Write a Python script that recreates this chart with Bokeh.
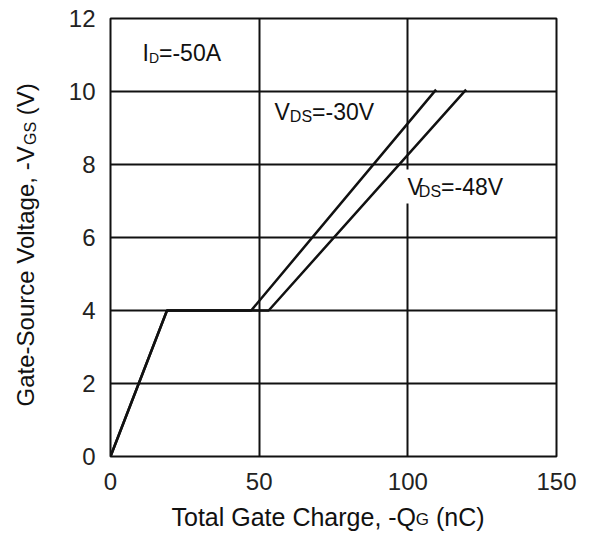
import math
from bokeh.plotting import figure
from bokeh.models import Range1d, FixedTicker, Label
from bokeh.layouts import row, column
from bokeh.embed import file_html
from bokeh.resources import INLINE

# ---------------- data ----------------
qg_vds30 = [0, 19, 47.3, 109.5]      # total gate charge, nC  (VDS = -30 V)
vgs_vds30 = [0, 4, 4, 10.05]         # gate-source voltage, V
qg_vds48 = [0, 19, 53.2, 119.6]      # total gate charge, nC  (VDS = -48 V)
vgs_vds48 = [0, 4, 4, 10.05]
x_ticks = [0, 50, 100, 150]
y_ticks = [0, 2, 4, 6, 8, 10, 12]
x_range = (0, 150)
y_range = (0, 12)

# text runs: (text, size px, baseline shift px, extra advance px before run)
x_title_runs = [("Total Gate Charge, -Q", 25, 0, 0), ("G", 17, 3, -3), (" (nC)", 25, 0, 0)]
y_title_runs = [("Gate-Source Voltage, -V", 24, 0, 0), ("GS", 16, 5, 0), (" (V)", 24, 0, 0)]
id_runs = [("I", 23, 0, 0), ("D", 14, 5, 0), ("=-50A", 23, 0, 0)]
vds30_runs = [("V", 23, 0, 0), ("DS", 16, 5, 0), ("=-30V", 23, 0, 0)]
vds48_runs = [("V", 23, 0, 0), ("DS", 16, 5, 0), ("=-48V", 23, 0, 0)]

# ---------------- layout ----------------
TOTAL_W, TOTAL_H = 590, 534
YT_W = 50                       # left strip holding the y title
XT_H = 34                       # bottom strip holding the x title
MW, MH = TOTAL_W - YT_W, TOTAL_H - XT_H
BL, BR, BT, BB = 60, 34, 18, 44
FW, FH = MW - BL - BR, MH - BT - BB
FONT = "Liberation Sans"
INK = "#111111"
BASE_FIX = -7                   # measured baseline correction of Label text

ARIAL = {' ': 278, '(': 333, ')': 333, ',': 278, '-': 333, '=': 584, 'A': 667, 'C': 722,
         'D': 722, 'G': 778, 'I': 278, 'Q': 778, 'S': 667, 'T': 611, 'V': 667, 'a': 556,
         'c': 500, 'e': 556, 'g': 556, 'h': 556, 'l': 222, 'n': 556, 'o': 556, 'r': 333,
         't': 278, 'u': 556}


def textw(s, size):
    return sum(ARIAL.get(c, 556) for c in s) / 1000.0 * size


def add_runs(p, runs, img_x, img_y, to_x, to_y, rotated=False, bg_first=False):
    pos = 0.0
    for i, (text, size, shift, adv) in enumerate(runs):
        pos += adv
        if text.startswith(" "):
            n = len(text) - len(text.lstrip(" "))
            pos += textw(" " * n, size)
            text = text.lstrip(" ")
        if rotated:
            x, y = img_x + shift + BASE_FIX, img_y - pos
        else:
            x, y = img_x + pos, img_y + shift + BASE_FIX
        kw = {}
        if bg_first and i == 0:
            kw = dict(background_fill_color="white", background_fill_alpha=1.0, padding=4)
        lab = Label(x=to_x(x), y=to_y(y), text=text, text_font=FONT,
                    text_font_size=f"{size}px", text_baseline="alphabetic",
                    text_align="left", text_color=INK,
                    angle=math.pi / 2 if rotated else 0.0, **kw)
        p.add_layout(lab)
        pos += textw(text, size)


def text_strip(w, h):
    f = figure(width=w, height=h, output_backend="svg", toolbar_location=None,
               x_range=Range1d(0, w), y_range=Range1d(h, 0),
               x_axis_location=None, y_axis_location=None, frame_align=False,
               min_border=0, min_border_left=0, min_border_right=0,
               min_border_top=0, min_border_bottom=0)
    f.grid.visible = False
    f.outline_line_color = None
    f.background_fill_color = "white"
    f.border_fill_color = "white"
    return f


# ---- main chart ----
p = figure(width=MW, height=MH, output_backend="svg", toolbar_location=None,
           x_range=Range1d(*x_range), y_range=Range1d(*y_range), frame_align=False,
           min_border_left=BL, min_border_right=BR, min_border_top=BT, min_border_bottom=BB)

p.background_fill_color = "white"
p.border_fill_color = "white"
p.outline_line_color = "#111111"
p.outline_line_width = 2

for ax, ticks in ((p.xaxis, x_ticks), (p.yaxis, y_ticks)):
    ax.ticker = FixedTicker(ticks=ticks)
    ax.axis_line_color = None
    ax.major_tick_line_color = None
    ax.minor_tick_line_color = None
    ax.major_label_text_font = FONT
    ax.major_label_text_font_size = "24px"
    ax.major_label_text_color = "#222222"
    ax.axis_label = None
p.xaxis.major_label_standoff = 10
p.yaxis.major_label_standoff = 9

for g in (p.xgrid, p.ygrid):
    g.grid_line_color = "#111111"
    g.grid_line_width = 2

p.line(qg_vds30, vgs_vds30, line_color="#111111", line_width=2.5)
p.line(qg_vds48, vgs_vds48, line_color="#111111", line_width=2.5)


def main_x(img_x):
    return x_range[0] + (img_x - YT_W - BL) * (x_range[1] - x_range[0]) / FW


def main_y(img_y):
    return y_range[0] + (BT + FH - img_y) * (y_range[1] - y_range[0]) / FH


add_runs(p, id_runs, 142, 59, main_x, main_y)
add_runs(p, vds30_runs, 274, 118, main_x, main_y)
add_runs(p, vds48_runs, 403, 193, main_x, main_y, bg_first=True)

# ---- y title strip (left) ----
ystrip = text_strip(YT_W, TOTAL_H)
add_runs(ystrip, y_title_runs, 32, 406, lambda v: v, lambda v: v, rotated=True)

# ---- x title strip (below main) ----
xstrip = text_strip(MW, XT_H)
add_runs(xstrip, x_title_runs, 171, 523, lambda v: v - YT_W, lambda v: v - MH)

layout = row(ystrip, column(p, xstrip, spacing=0), spacing=0)

open("out.html", "w").write(file_html(layout, INLINE))
